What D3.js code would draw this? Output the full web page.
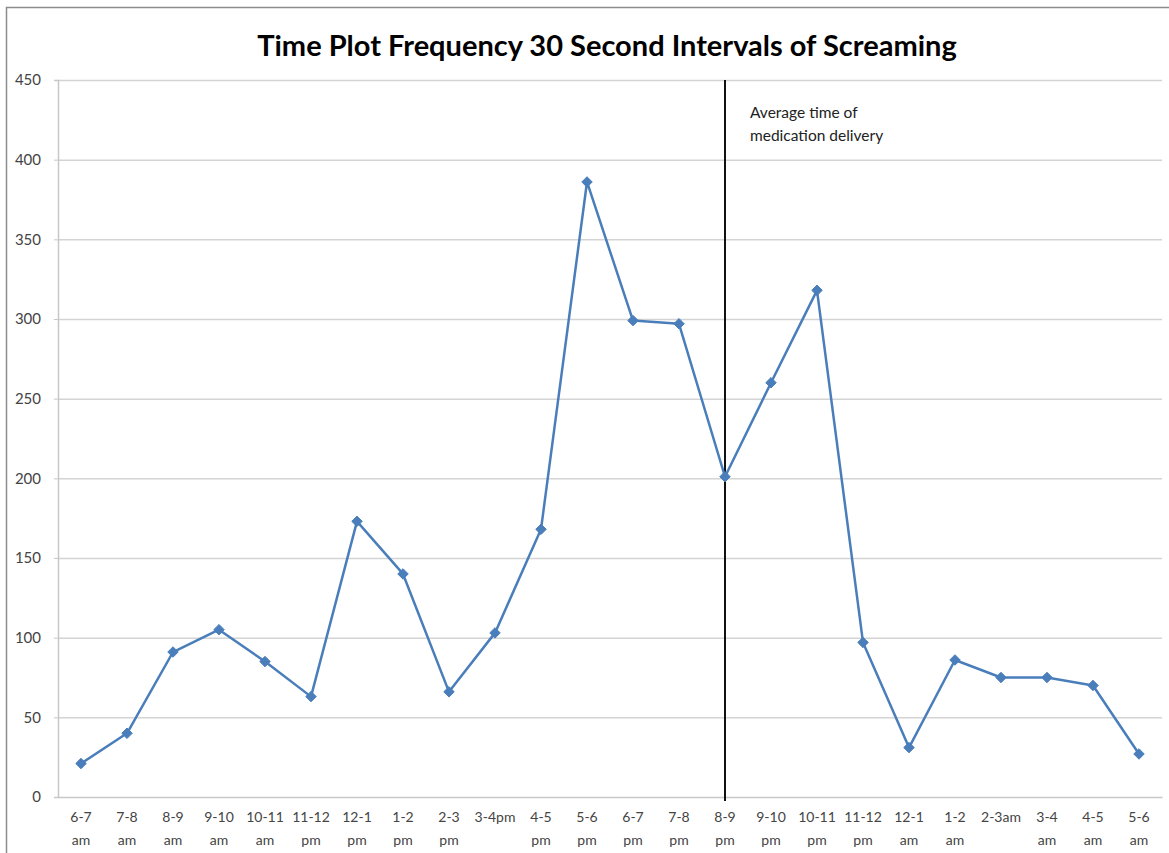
<!DOCTYPE html>
<html>
<head>
<meta charset="utf-8">
<script src="https://cdn.jsdelivr.net/npm/d3@7"></script>
<style>
  body { margin: 0; background: #fff; }
  text { font-family: Lato, "Open Sans", sans-serif; }
</style>
</head>
<body>
<div id="chart"></div>
<script>
// categories (hour slots) and screaming counts
var categories = ["6-7 am", "7-8 am", "8-9 am", "9-10 am", "10-11 am", "11-12 pm",
  "12-1 pm", "1-2 pm", "2-3 pm", "3-4pm", "4-5 pm", "5-6 pm", "6-7 pm", "7-8 pm",
  "8-9 pm", "9-10 pm", "10-11 pm", "11-12 pm", "12-1 am", "1-2 am", "2-3am",
  "3-4 am", "4-5 am", "5-6 am"];
var values = [21, 40, 91, 105, 85, 63, 173, 140, 66, 103, 168, 386, 299, 297,
  201, 260, 318, 97, 31, 86, 75, 75, 70, 27];
var yTicks = [0, 50, 100, 150, 200, 250, 300, 350, 400, 450];
var medicationIndex = 14; // "8-9 pm"
var noteLines = ["Average time of", "medication delivery"];
var title = "Time Plot Frequency 30 Second Intervals of Screaming";

var W = 1169, H = 853;
var margin = { top: 80, right: 7, bottom: 56, left: 58 },
  width = W - margin.left - margin.right,
  height = H - margin.top - margin.bottom;

var root = d3.select("#chart").append("svg")
  .attr("width", W)
  .attr("height", H);

// outer chart frame
root.append("rect")
  .attr("x", 6.5).attr("y", 7.5)
  .attr("width", W - 5).attr("height", H)
  .attr("fill", "none")
  .attr("stroke", "#8c8c8c")
  .attr("stroke-width", 1.5);

root.append("text")
  .attr("x", 607).attr("y", 56)
  .attr("text-anchor", "middle")
  .style("font-size", "29px")
  .style("font-weight", "bold")
  .attr("fill", "#000")
  .text(title);

var svg = root.append("g")
  .attr("transform", "translate(" + margin.left + "," + margin.top + ")");

// category slots by index (two slots share the label "11-12 pm")
var idx = d3.range(categories.length);
var x = d3.scaleBand().domain(idx).range([0, width]);
var y = d3.scaleLinear().domain([0, 450]).range([height, 0]);
var cx = function (i) { return x(i) + x.bandwidth() / 2; };

// gridlines
svg.append("g")
  .selectAll("line")
  .data(yTicks.slice(1))
  .enter()
  .append("line")
  .attr("x1", 0).attr("x2", width)
  .attr("y1", function (d) { return y(d) + 0.5; })
  .attr("y2", function (d) { return y(d) + 0.5; })
  .attr("stroke", "#d4d4d4")
  .attr("stroke-width", 1.5);

// y axis
var yAxis = svg.append("g")
  .call(d3.axisLeft(y).tickValues(yTicks).tickSize(4).tickPadding(13));
yAxis.select(".domain").attr("stroke", "#c8c8c8").attr("stroke-width", 1.5);
yAxis.selectAll(".tick line").attr("stroke", "#c8c8c8");
yAxis.selectAll("text")
  .style("font-size", "15px")
  .attr("fill", "#444");

// x axis
var xAxis = svg.append("g")
  .attr("transform", "translate(0," + height + ")")
  .call(d3.axisBottom(x).tickSize(0).tickFormat(""));
xAxis.select(".domain").attr("stroke", "#c8c8c8").attr("stroke-width", 1.5);
xAxis.selectAll(".tick").each(function (i) {
  var parts = categories[i].split(" ");
  var t = d3.select(this).append("text")
    .attr("text-anchor", "middle")
    .attr("fill", "#444")
    .style("font-size", "14px");
  parts.forEach(function (p, k) {
    t.append("tspan").attr("x", 0).attr("y", 25 + k * 23).text(p);
  });
});

// medication marker line
var mx = cx(medicationIndex);
svg.append("line")
  .attr("x1", mx).attr("x2", mx)
  .attr("y1", 0).attr("y2", height + 4)
  .attr("stroke", "#111")
  .attr("stroke-width", 2);

svg.append("g")
  .selectAll("text")
  .data(noteLines)
  .enter()
  .append("text")
  .attr("x", mx + 25)
  .attr("y", function (d, i) { return 38 + i * 23; })
  .style("font-size", "15.5px")
  .attr("fill", "#222")
  .text(function (d) { return d; });

// series line
var line = d3.line()
  .x(function (d, i) { return cx(i); })
  .y(function (d) { return y(d); });

svg.append("path")
  .datum(values)
  .attr("d", line)
  .attr("fill", "none")
  .attr("stroke", "#4a7ebb")
  .attr("stroke-width", 2.5)
  .attr("stroke-linejoin", "round");

svg.append("g")
  .selectAll("path")
  .data(values)
  .enter()
  .append("path")
  .attr("d", d3.symbol().type(d3.symbolDiamond2).size(70))
  .attr("transform", function (d, i) {
    return "translate(" + cx(i) + "," + y(d) + ")";
  })
  .attr("fill", "#4a7ebb")
  .attr("stroke", "#4a7ebb");
</script>
</body>
</html>
